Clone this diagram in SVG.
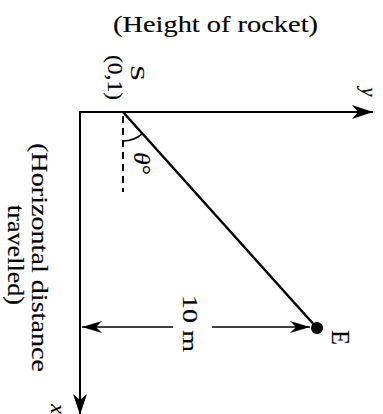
<svg xmlns="http://www.w3.org/2000/svg" width="383" height="414" viewBox="0 0 383 414">
<style>
text{font-family:"Liberation Serif","Times New Roman",serif;fill:#000;stroke:#000;stroke-width:0.15}
.ln{stroke:#000;fill:none}
.it{font-style:italic}
</style>
<defs>
<marker id="ah" markerUnits="userSpaceOnUse" markerWidth="24" markerHeight="18" viewBox="-22 -9 24 18" refX="0" refY="0" orient="auto">
<path d="M0,0 L-21,-7 L-15,0 L-21,7 Z" fill="#000"/>
</marker>
<marker id="ahs" markerUnits="userSpaceOnUse" markerWidth="24" markerHeight="18" viewBox="-22 -9 24 18" refX="0" refY="0" orient="auto-start-reverse">
<path d="M0,0 L-20,-6 L-14,0 L-20,6 Z" fill="#000"/>
</marker>
</defs>
<rect width="383" height="414" fill="#fff"/>
<g id="title">
<text x="215.5" y="32" font-size="23" text-anchor="middle" textLength="205" lengthAdjust="spacingAndGlyphs">(Height of rocket)</text>
</g>
<g id="connectors">
<line class="ln" x1="80" y1="112" x2="373" y2="112" stroke-width="2" marker-end="url(#ah)"/>
<line class="ln" x1="80" y1="111" x2="80" y2="415" stroke-width="2" marker-end="url(#ah)"/>
<line class="ln" x1="123" y1="112" x2="317" y2="328" stroke-width="2.5"/>
<line class="ln" x1="173" y1="327" x2="82" y2="327" stroke-width="1.5" marker-end="url(#ahs)"/>
<line class="ln" x1="212" y1="327" x2="310" y2="327" stroke-width="1.5" marker-end="url(#ahs)"/>
</g>
<g id="axis-y-label">
<text class="it" transform="translate(362,92) rotate(90)" font-size="20" text-anchor="middle">y</text>
</g>
<g id="axis-x-label">
<text class="it" transform="translate(51,404) rotate(90)" font-size="22" text-anchor="start">x</text>
<text transform="translate(32,257.5) rotate(90)" font-size="24" text-anchor="middle" textLength="229" lengthAdjust="spacingAndGlyphs">(Horizontal distance</text>
<text transform="translate(8,255) rotate(90)" font-size="24" text-anchor="middle" textLength="100" lengthAdjust="spacingAndGlyphs">travelled)</text>
</g>
<g id="point-S">
<text transform="translate(131,73) rotate(90)" font-size="18" text-anchor="middle" textLength="16" lengthAdjust="spacingAndGlyphs">S</text>
<text transform="translate(108,77.5) rotate(90)" font-size="20" text-anchor="middle" textLength="45" lengthAdjust="spacingAndGlyphs">(0,1)</text>
</g>
<g id="angle">
<line class="ln" x1="123" y1="116" x2="123" y2="192" stroke-width="2" stroke-dasharray="7 5"/>
<path class="ln" d="M123,141 A29,29 0 0 0 142.4,133.6" stroke-width="1.5"/>
<text transform="translate(134,163.5) rotate(90)" font-size="24" text-anchor="middle" textLength="23" lengthAdjust="spacingAndGlyphs"><tspan class="it">θ</tspan>°</text>
</g>
<g id="point-E">
<circle cx="317" cy="328" r="6" fill="#000"/>
<text transform="translate(332,337.5) rotate(90)" font-size="25" text-anchor="middle" textLength="15" lengthAdjust="spacingAndGlyphs">E</text>
</g>
<g id="dimension">
<text transform="translate(183,323.5) rotate(90)" font-size="22" text-anchor="middle" textLength="57" lengthAdjust="spacingAndGlyphs">10 m</text>
</g>
</svg>
